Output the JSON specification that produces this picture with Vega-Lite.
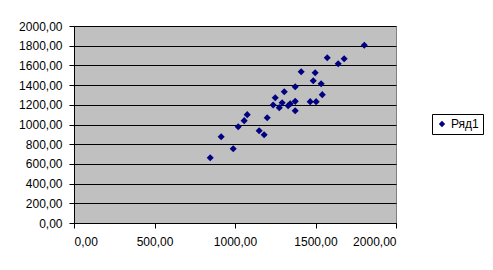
{
  "$schema": "https://vega.github.io/schema/vega-lite/v6.json",
  "width": 322,
  "height": 197,
  "autosize": {"type": "none"},
  "padding": {"left": 74, "top": 26, "right": 97, "bottom": 47},
  "background": "white",
  "config": {
    "font": "Liberation Sans",
    "view": {"fill": "#C0C0C0", "stroke": "#808080", "strokeWidth": 1},
    "axis": {"labelFont": "Liberation Sans", "labelFontSize": 12, "labelColor": "black", "domainColor": "black", "tickColor": "black", "tickSize": 5, "title": null}
  },
  "data": {
    "values": [
      {"x": 846, "y": 663, "series": "Ряд1"},
      {"x": 914, "y": 876, "series": "Ряд1"},
      {"x": 989, "y": 754, "series": "Ряд1"},
      {"x": 1020, "y": 978, "series": "Ряд1"},
      {"x": 1057, "y": 1039, "series": "Ряд1"},
      {"x": 1076, "y": 1100, "series": "Ряд1"},
      {"x": 1150, "y": 937, "series": "Ряд1"},
      {"x": 1181, "y": 896, "series": "Ряд1"},
      {"x": 1200, "y": 1069, "series": "Ряд1"},
      {"x": 1237, "y": 1198, "series": "Ряд1"},
      {"x": 1250, "y": 1272, "series": "Ряд1"},
      {"x": 1275, "y": 1171, "series": "Ряд1"},
      {"x": 1293, "y": 1221, "series": "Ряд1"},
      {"x": 1306, "y": 1333, "series": "Ряд1"},
      {"x": 1330, "y": 1191, "series": "Ряд1"},
      {"x": 1343, "y": 1211, "series": "Ряд1"},
      {"x": 1374, "y": 1235, "series": "Ряд1"},
      {"x": 1374, "y": 1384, "series": "Ряд1"},
      {"x": 1374, "y": 1140, "series": "Ряд1"},
      {"x": 1411, "y": 1536, "series": "Ряд1"},
      {"x": 1467, "y": 1232, "series": "Ряд1"},
      {"x": 1486, "y": 1445, "series": "Ряд1"},
      {"x": 1498, "y": 1526, "series": "Ряд1"},
      {"x": 1504, "y": 1232, "series": "Ряд1"},
      {"x": 1535, "y": 1414, "series": "Ряд1"},
      {"x": 1542, "y": 1303, "series": "Ряд1"},
      {"x": 1573, "y": 1678, "series": "Ряд1"},
      {"x": 1641, "y": 1617, "series": "Ряд1"},
      {"x": 1678, "y": 1668, "series": "Ряд1"},
      {"x": 1803, "y": 1804, "series": "Ряд1"}
    ]
  },
  "mark": {"type": "point", "shape": "diamond", "filled": true, "size": 50, "opacity": 1},
  "encoding": {
    "x": {
      "field": "x", "type": "quantitative",
      "scale": {"domain": [0, 2000], "nice": false},
      "axis": {"values": [0, 500, 1000, 1500, 2000], "grid": false, "labelPadding": 8, "labelExpr": "replace(format(datum.value, '.2f'), '.', ',')"}
    },
    "y": {
      "field": "y", "type": "quantitative",
      "scale": {"domain": [0, 2000], "nice": false},
      "axis": {"values": [0, 200, 400, 600, 800, 1000, 1200, 1400, 1600, 1800, 2000], "grid": true, "gridColor": "black", "gridOpacity": 1, "gridWidth": 1, "labelPadding": 7, "labelExpr": "replace(format(datum.value, '.2f'), '.', ',')"}
    },
    "color": {
      "field": "series", "type": "nominal",
      "scale": {"range": ["#000080"]},
      "legend": {
        "title": null, "orient": "none", "legendX": 358, "legendY": 88,
        "strokeColor": "black", "fillColor": "white", "padding": 4,
        "symbolType": "diamond", "symbolSize": 40, "labelFontSize": 12, "labelFont": "Liberation Sans", "labelColor": "black", "labelOffset": 3
      }
    }
  }
}
